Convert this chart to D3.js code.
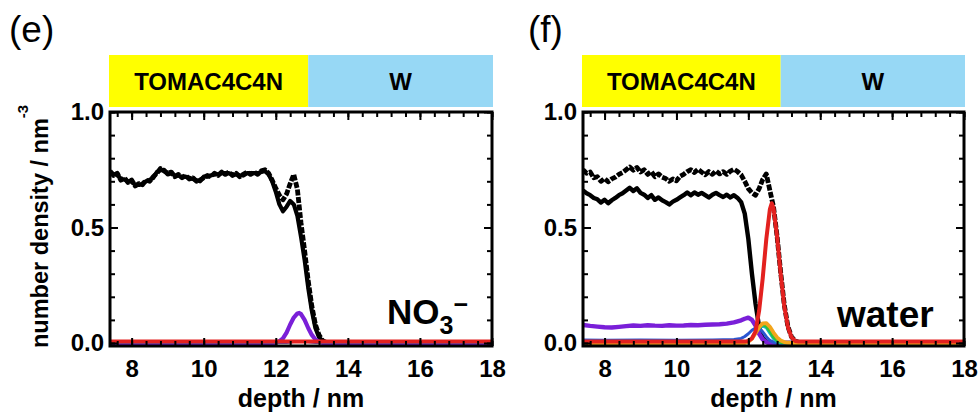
<!DOCTYPE html>
<html>
<head>
<meta charset="utf-8">
<script src="https://cdn.jsdelivr.net/npm/d3@7"></script>
<style>
  body { margin: 0; background: #fff; }
  svg { display: block; font-family: "Liberation Sans", Arial, Helvetica, sans-serif; }
</style>
</head>
<body>
<svg id="chart" width="978" height="414"></svg>
<script>
// ---- depth grid shared by the surfactant density profiles (nm) ----
const depthGrid = [7.4,7.5,7.6,7.7,7.8,7.9,8.0,8.1,8.2,8.3,
  8.4,8.5,8.6,8.7,8.8,8.9,9.0,9.1,9.2,9.3,
  9.4,9.5,9.6,9.7,9.8,9.9,10.0,10.1,10.2,10.3,
  10.4,10.5,10.6,10.7,10.8,10.9,11.0,11.1,11.2,11.3,
  11.4,11.5,11.6,11.7,11.8,11.9,12.0,12.1,12.2,12.3,
  12.4,12.5,12.6,12.7,12.8,12.9,13.0,13.1,13.2,13.3,
  13.4,13.5,18.0];

// ---- panel (e): NO3- system ----
const totalE = [0.745,0.725,0.735,0.705,0.715,0.695,0.705,0.680,0.690,0.685,
  0.705,0.700,0.720,0.735,0.755,0.745,0.735,0.740,0.720,0.730,
  0.715,0.725,0.710,0.715,0.700,0.705,0.715,0.725,0.720,0.735,
  0.725,0.740,0.730,0.740,0.725,0.735,0.720,0.730,0.740,0.730,
  0.740,0.730,0.745,0.750,0.735,0.705,0.670,0.640,0.620,0.645,
  0.690,0.730,0.665,0.520,0.400,0.270,0.160,0.080,0.035,0.010,
  0.002,0,0];
const surfE = [0.740,0.730,0.728,0.710,0.708,0.700,0.698,0.685,0.684,0.690,
  0.700,0.706,0.715,0.740,0.748,0.750,0.730,0.734,0.725,0.724,
  0.720,0.720,0.715,0.710,0.705,0.700,0.720,0.720,0.725,0.730,
  0.730,0.735,0.735,0.735,0.730,0.730,0.725,0.725,0.735,0.735,
  0.735,0.735,0.740,0.745,0.730,0.700,0.655,0.600,0.570,0.590,
  0.615,0.600,0.550,0.460,0.360,0.240,0.140,0.065,0.025,0.008,
  0,0,0];
const depthPurpleE = [7.4,12.0,12.1,12.2,12.3,12.4,12.5,12.6,12.65,12.7,12.8,12.9,13.0,13.1,13.2,13.3,18];
const purpleE      = [0,0,0.008,0.020,0.045,0.080,0.110,0.128,0.130,0.125,0.100,0.065,0.035,0.015,0.005,0,0];
const depthBlueE = [7.4,12.3,12.5,12.7,12.9,13.1,18];
const blueE      = [0,0,0.004,0.006,0.003,0,0];
const depthRedE = [7.4,18];
const redE      = [0.007,0.007];

// ---- panel (f): water system ----
const totalF = [0.750,0.735,0.740,0.715,0.720,0.700,0.712,0.698,0.710,0.718,
  0.730,0.738,0.750,0.762,0.748,0.760,0.740,0.750,0.730,0.742,
  0.720,0.732,0.718,0.712,0.700,0.710,0.702,0.722,0.730,0.742,
  0.750,0.738,0.752,0.740,0.728,0.742,0.730,0.745,0.732,0.742,
  0.730,0.744,0.752,0.742,0.728,0.700,0.668,0.650,0.640,0.668,
  0.708,0.732,0.660,0.590,0.462,0.305,0.165,0.072,0.027,0.009,
  0.003,0.002,0.002];
const surfF = [0.660,0.648,0.640,0.628,0.622,0.608,0.620,0.605,0.618,0.628,
  0.640,0.648,0.660,0.672,0.658,0.670,0.650,0.642,0.628,0.640,
  0.620,0.630,0.618,0.610,0.600,0.612,0.620,0.630,0.640,0.652,
  0.640,0.652,0.642,0.650,0.640,0.630,0.642,0.650,0.640,0.632,
  0.642,0.630,0.640,0.628,0.610,0.560,0.450,0.300,0.170,0.070,
  0.020,0.005,0,0,0,0,0,0,0,0,
  0,0,0];
const depthPurpleF = [7.4,7.6,7.8,8.0,8.2,8.4,8.6,8.8,9.0,9.2,
  9.4,9.6,9.8,10.0,10.2,10.4,10.6,10.8,11.0,11.2,
  11.4,11.6,11.8,11.9,12.0,12.1,12.2,12.3,12.4,12.5,12.6,18];
const purpleF = [0.078,0.074,0.071,0.068,0.067,0.070,0.073,0.076,0.074,0.077,
  0.075,0.074,0.077,0.075,0.076,0.078,0.077,0.079,0.080,0.081,
  0.084,0.089,0.098,0.105,0.110,0.100,0.075,0.040,0.015,0.004,0,0];
const depthBlueF = [7.4,8.0,9.0,10.0,11.0,11.6,11.8,11.9,12.0,12.1,12.2,12.3,12.4,12.5,12.6,12.7,12.8,18];
const blueF      = [0.013,0.012,0.013,0.012,0.013,0.015,0.020,0.028,0.040,0.055,0.065,0.064,0.048,0.027,0.011,0.003,0,0];
const depthCyanF = [7.4,11.9,12.0,12.1,12.2,12.3,12.4,12.5,12.6,12.7,12.8,12.9,18];
const cyanF      = [0,0,0.008,0.022,0.044,0.064,0.074,0.066,0.042,0.019,0.006,0,0];
const depthGreenF = [7.4,11.9,12.0,12.1,12.2,12.3,12.4,12.5,12.6,12.7,12.8,12.9,13.0,18];
const greenF      = [0,0,0.007,0.021,0.045,0.068,0.080,0.073,0.051,0.026,0.010,0.003,0,0];
const depthOrangeF = [7.4,11.9,12.0,12.1,12.2,12.3,12.4,12.5,12.6,12.7,12.8,12.9,13.0,13.1,13.2,18];
const orangeF      = [0,0,0.005,0.018,0.042,0.068,0.085,0.086,0.070,0.045,0.024,0.011,0.004,0.001,0,0];
const depthRedF = [7.4,11.9,12.0,12.1,12.2,12.3,12.4,12.5,12.6,12.65,12.7,12.8,12.9,13.0,13.1,13.2,13.3,13.4,18];
const redF      = [0.006,0.006,0.009,0.020,0.050,0.140,0.280,0.450,0.580,0.605,0.585,0.460,0.300,0.160,0.070,0.025,0.009,0.006,0.006];

// ---- axes and phase labels ----
const xTicks = [8, 10, 12, 14, 16, 18];
const yTicks = [0, 0.5, 1.0];
const phaseBoundary = 12.9;
const phaseNames = ["TOMAC4C4N", "W"];

// ---- layout ----
const svg = d3.select("#chart");
const xDomain = [7.4, 18];
const yDomain = [-0.013, 1.0];
const plotTop = 112, plotBottom = 346;
const barTop = 55, barHeight = 52;
const C = { black: "#000", purple: "#7a1fd8", blue: "#2a55d0", cyan: "#12b5c8",
            green: "#2cc23a", orange: "#f2a51c", red: "#e3211f" };

const xMinor = d3.range(7.6, 18.01, 0.4).map(v => +v.toFixed(1));
const yMinor = d3.range(0, 1.001, 0.1).map(v => +v.toFixed(1));

const panels = [
  { tag: "(e)", tagX: 9, left: 110, right: 492, yTitle: true,
    note: "no3", series: [
      { x: depthGrid, y: surfE, color: C.black, w: 4.2 },
      { x: depthGrid, y: totalE, color: C.black, w: 4.8, dash: "6,1.6" },
      { x: depthPurpleE, y: purpleE, color: C.purple, w: 4.2 },
      { x: depthBlueE, y: blueE, color: C.blue, w: 2 },
      { x: depthRedE, y: redE, color: C.red, w: 4 } ] },
  { tag: "(f)", tagX: 528, left: 583, right: 964, yTitle: false,
    note: "water", series: [
      { x: depthGrid, y: totalF, color: C.black, w: 4.8, dash: "6,1.6" },
      { x: depthGrid, y: surfF, color: C.black, w: 4.4 },
      { x: depthPurpleF, y: purpleF, color: C.purple, w: 4.4 },
      { x: depthBlueF, y: blueF, color: C.blue, w: 3 },
      { x: depthCyanF, y: cyanF, color: C.cyan, w: 3 },
      { x: depthGreenF, y: greenF, color: C.green, w: 3 },
      { x: depthOrangeF, y: orangeF, color: C.orange, w: 3.8 },
      { x: depthRedF, y: redF, color: C.red, w: 4 } ] }
];

panels.forEach((p, i) => {
  const x = d3.scaleLinear().domain(xDomain).range([p.left, p.right]);
  const y = d3.scaleLinear().domain(yDomain).range([plotBottom, plotTop]);
  const g = svg.append("g");

  // panel tag
  g.append("text").attr("x", p.tagX).attr("y", 42)
    .attr("font-size", 37).text(p.tag);

  // phase bar
  const xa = x(xDomain[0]) - 1, xb = x(phaseBoundary), xc = x(xDomain[1]) + 1;
  g.append("rect").attr("x", xa).attr("y", barTop).attr("width", xb - xa)
    .attr("height", barHeight).attr("fill", "#ffff00");
  g.append("rect").attr("x", xb).attr("y", barTop).attr("width", xc - xb)
    .attr("height", barHeight).attr("fill", "#97d8f5");
  g.append("text").attr("x", (xa + xb) / 2).attr("y", 90).attr("text-anchor", "middle")
    .attr("font-size", 24).attr("font-weight", "bold").text(phaseNames[0]);
  g.append("text").attr("x", (xb + xc) / 2).attr("y", 90).attr("text-anchor", "middle")
    .attr("font-size", 24).attr("font-weight", "bold").text(phaseNames[1]);

  // clip region
  const clipId = "clip" + i;
  g.append("clipPath").attr("id", clipId).append("rect")
    .attr("x", p.left).attr("y", plotTop)
    .attr("width", p.right - p.left).attr("height", plotBottom - plotTop);

  const line = d3.line().x(d => x(d[0])).y(d => y(d[1]));
  const lines = g.append("g").attr("clip-path", `url(#${clipId})`);
  p.series.forEach(s => {
    lines.append("path").datum(d3.zip(s.x, s.y)).attr("d", line)
      .attr("fill", "none").attr("stroke", s.color).attr("stroke-width", s.w)
      .attr("stroke-linejoin", "round")
      .attr("stroke-dasharray", s.dash || null);
  });

  // axes: inward ticks on all four sides
  const styleAxis = sel => {
    sel.select(".domain").remove();
    sel.selectAll(".tick line").attr("stroke", "#000").attr("stroke-width", 2);
    sel.selectAll("text").attr("font-size", 24).attr("font-weight", "bold")
      .attr("font-family", "Liberation Sans, Arial, sans-serif").attr("fill", "#000");
  };
  g.append("g").attr("transform", `translate(0,${plotBottom})`)
    .call(d3.axisBottom(x).tickValues(xMinor).tickSize(-5).tickFormat("")).call(styleAxis);
  g.append("g").attr("transform", `translate(0,${plotBottom})`)
    .call(d3.axisBottom(x).tickValues(xTicks).tickSize(-8).tickPadding(14)
      .tickFormat(d3.format("d"))).call(styleAxis);
  g.append("g").attr("transform", `translate(0,${plotTop})`)
    .call(d3.axisTop(x).tickValues(xMinor).tickSize(-5).tickFormat("")).call(styleAxis);
  g.append("g").attr("transform", `translate(0,${plotTop})`)
    .call(d3.axisTop(x).tickValues(xTicks).tickSize(-8).tickFormat("")).call(styleAxis);
  g.append("g").attr("transform", `translate(${p.left},0)`)
    .call(d3.axisLeft(y).tickValues(yMinor).tickSize(-5).tickFormat("")).call(styleAxis);
  g.append("g").attr("transform", `translate(${p.left},0)`)
    .call(d3.axisLeft(y).tickValues(yTicks).tickSize(-8).tickPadding(6)
      .tickFormat(d3.format(".1f"))).call(styleAxis);
  g.append("g").attr("transform", `translate(${p.right},0)`)
    .call(d3.axisRight(y).tickValues(yMinor).tickSize(-5).tickFormat("")).call(styleAxis);
  g.append("g").attr("transform", `translate(${p.right},0)`)
    .call(d3.axisRight(y).tickValues(yTicks).tickSize(-8).tickFormat("")).call(styleAxis);

  // frame
  g.append("rect").attr("x", p.left).attr("y", plotTop)
    .attr("width", p.right - p.left).attr("height", plotBottom - plotTop)
    .attr("fill", "none").attr("stroke", "#000").attr("stroke-width", 3);

  // x title
  g.append("text").attr("x", (p.left + p.right) / 2).attr("y", 407)
    .attr("text-anchor", "middle").attr("font-size", 25).attr("font-weight", "bold")
    .text("depth / nm");

  // y title
  if (p.yTitle) {
    const t = g.append("text").attr("transform", "translate(48,348) rotate(-90)")
      .attr("font-size", 23.5).attr("font-weight", "bold");
    t.append("tspan").text("number density / nm");
    t.append("tspan").attr("dy", -20).attr("font-size", 15).text("-3");
  }

  // species label
  if (p.note === "no3") {
    const t = g.append("text").attr("x", 387).attr("y", 324)
      .attr("font-weight", "bold").attr("font-size", 35);
    t.append("tspan").text("NO");
    t.append("tspan").attr("dy", 10).attr("font-size", 25).text("3");
    t.append("tspan").attr("dy", -21).attr("font-size", 25).text("\u2212");
  } else {
    g.append("text").attr("x", 837).attr("y", 327)
      .attr("font-weight", "bold").attr("font-size", 37).text("water");
  }
});
</script>
</body>
</html>
